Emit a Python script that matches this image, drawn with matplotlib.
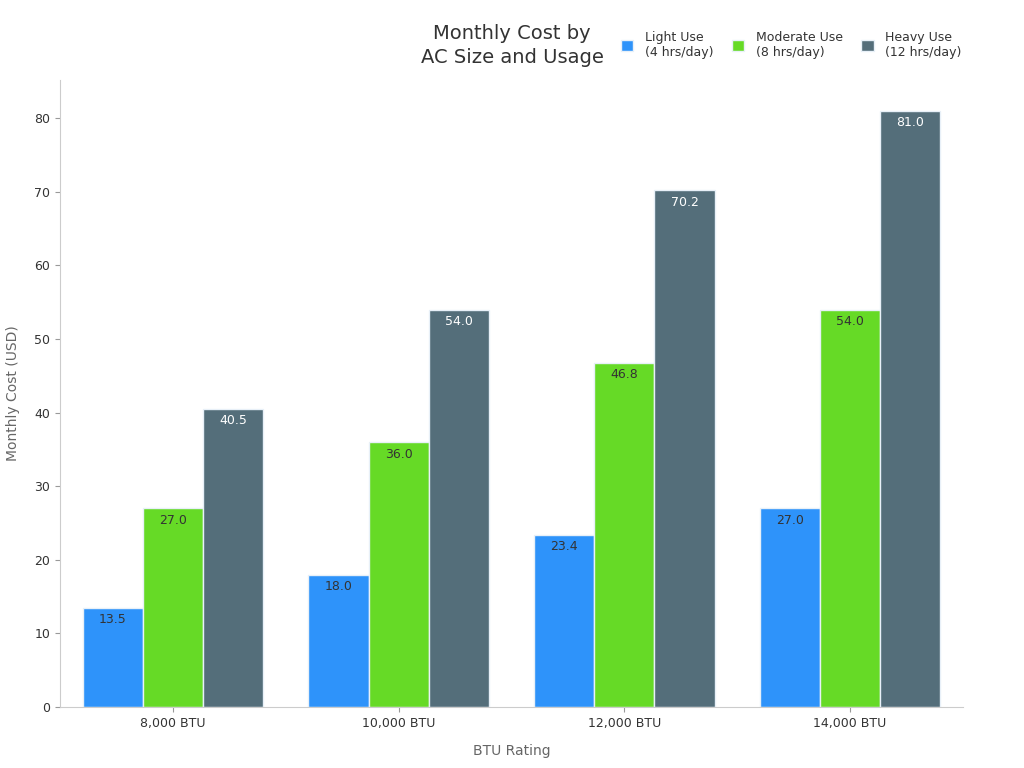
import matplotlib.pyplot as plt
import numpy as np

# data
sizes = ['8,000 BTU', '10,000 BTU', '12,000 BTU', '14,000 BTU']
light = [13.5, 18.0, 23.4, 27.0]
moderate = [27.0, 36.0, 46.8, 54.0]
heavy = [40.5, 54.0, 70.2, 81.0]
series_names = ['Light Use\n(4 hrs/day)', 'Moderate Use\n(8 hrs/day)', 'Heavy Use\n(12 hrs/day)']
colors = ['#2E93FA', '#66DA26', '#546E7A']
label_colors = ['#333333', '#333333', '#ffffff']

fig = plt.figure(figsize=(10.24, 7.68), dpi=100)
ax = fig.add_axes([0.0586, 0.0794, 0.8818, 0.8164])

x = np.arange(len(sizes))
w = 0.2667
handles = []
for i, vals in enumerate([light, moderate, heavy]):
    bars = ax.bar(x + (i - 1) * w, vals, w, color=colors[i], edgecolor='#e8f0f8', linewidth=1)
    handles.append(bars)
    for b, v in zip(bars, vals):
        ax.text(b.get_x() + b.get_width() / 2, v - 0.75, f'{v:.1f}', ha='center', va='top',
                fontsize=9, color=label_colors[i])

ax.set_xlim(-0.5, 3.5)
ax.set_ylim(0, 85.2)
ax.set_yticks(range(0, 81, 10))
ax.set_xticks(x)
ax.set_xticklabels(sizes)
ax.tick_params(colors='#999999', labelcolor='#333333', labelsize=9)
for s in ['top', 'right']:
    ax.spines[s].set_visible(False)
for s in ['left', 'bottom']:
    ax.spines[s].set_color('#cccccc')

ax.set_ylabel('Monthly Cost (USD)', color='#666666', fontsize=10, labelpad=10)
ax.set_xlabel('BTU Rating', color='#666666', fontsize=10, labelpad=10)

fig.text(0.5, 0.941, 'Monthly Cost by\nAC Size and Usage', ha='center', va='center',
         fontsize=14, color='#333333', linespacing=1.35)
fig.legend(handles, series_names, loc='center left', bbox_to_anchor=(0.595, 0.942), ncol=3,
           frameon=False, fontsize=9, handlelength=1.0, handleheight=1.0, handletextpad=0.95,
           columnspacing=1.45, labelcolor='#333333')

fig.savefig('out.png', dpi=100)
